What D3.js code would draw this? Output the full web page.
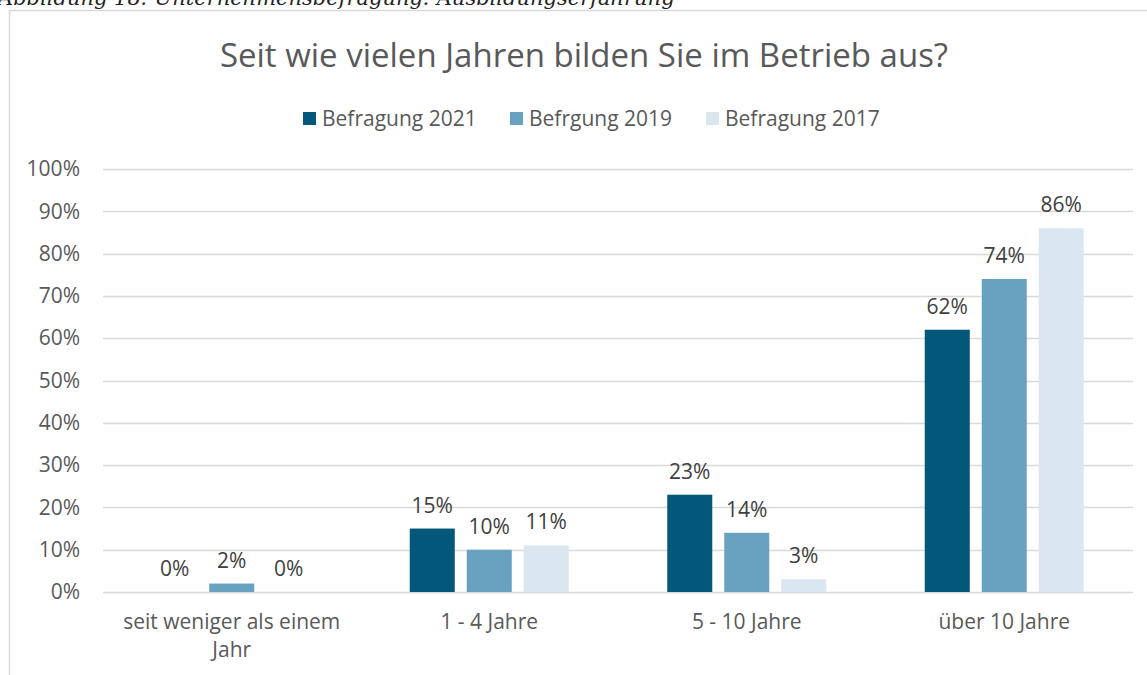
<!DOCTYPE html>
<html>
<head>
<meta charset="utf-8">
<script src="https://cdn.jsdelivr.net/npm/d3@7"></script>
<style>
  body { margin: 0; background: #fff; }
  svg text { font-family: "Open Sans", sans-serif; fill: #595959; }
</style>
</head>
<body>
<svg id="chart" width="1147" height="675"></svg>
<script>
// data
const categories = ["seit weniger als einem Jahr", "1 - 4 Jahre", "5 - 10 Jahre", "über 10 Jahre"];
const seriesNames = ["Befragung 2021", "Befrgung 2019", "Befragung 2017"];
const values2021 = [0, 15, 23, 62];
const values2019 = [2, 10, 14, 74];
const values2017 = [0, 11, 3, 86];
const yTicks = [0, 10, 20, 30, 40, 50, 60, 70, 80, 90, 100];
const colors = ["#03587a", "#68a2c0", "#dae7f1"];

const series = [values2021, values2019, values2017];

const svg = d3.select("#chart");

// caption above the chart frame (cut off at the top, as in the source)
svg.append("text")
  .attr("x", -2).attr("y", 5)
  .style("font-family", "'DejaVu Serif', serif")
  .style("font-style", "italic")
  .style("font-size", "21px")
  .style("fill", "#222")
  .text("Abbildung 18: Unternehmensbefragung: Ausbildungserfahrung");

// chart frame
svg.append("path")
  .attr("d", "M9.5,675 V10.5 H1150")
  .attr("fill", "none")
  .attr("stroke", "#d9d9d9")
  .attr("stroke-width", 1.5);

const x0 = d3.scaleBand().domain(categories).range([103, 1133]);
const x1 = d3.scaleBand().domain(d3.range(3)).range([0, 159]).paddingInner(0.21);
const y = d3.scaleLinear().domain([0, 100]).range([592, 169]);

// gridlines
svg.append("g")
  .selectAll("line")
  .data(yTicks)
  .join("line")
  .attr("x1", 103).attr("x2", 1133)
  .attr("y1", d => Math.round(y(d)) + 0.5)
  .attr("y2", d => Math.round(y(d)) + 0.5)
  .attr("stroke", "#d9d9d9")
  .attr("stroke-width", 1.5);

// y axis labels
const yAxis = svg.append("g")
  .attr("transform", "translate(103,0)")
  .call(d3.axisLeft(y).tickValues(yTicks).tickFormat(d => d + "%").tickSize(0).tickPadding(23));
yAxis.select(".domain").remove();
yAxis.selectAll("text")
  .style("font-size", "21px")
  .style("fill", "#595959")
  .style("font-family", "'Open Sans', sans-serif");

// bars
const groups = svg.append("g")
  .selectAll("g")
  .data(categories)
  .join("g")
  .attr("transform", d => `translate(${x0(d) + (x0.bandwidth() - 159) / 2},0)`);

groups.selectAll("rect")
  .data((d, i) => series.map((s, j) => ({ s: j, v: s[i] })))
  .join("rect")
  .attr("x", d => x1(d.s))
  .attr("width", x1.bandwidth())
  .attr("y", d => y(d.v))
  .attr("height", d => y(0) - y(d.v))
  .attr("fill", d => colors[d.s]);

groups.selectAll("text")
  .data((d, i) => series.map((s, j) => ({ s: j, v: s[i] })))
  .join("text")
  .attr("x", d => x1(d.s) + x1.bandwidth() / 2)
  .attr("y", d => y(d.v) - 16)
  .attr("text-anchor", "middle")
  .style("font-size", "21px")
  .style("fill", "#404040")
  .text(d => d.v + "%");

// category labels
const catLabels = svg.append("g")
  .selectAll("text")
  .data(categories)
  .join("text")
  .attr("x", d => x0(d) + x0.bandwidth() / 2)
  .attr("y", 629)
  .attr("text-anchor", "middle")
  .style("font-size", "21px");
catLabels.each(function (d) {
  const lines = d === "seit weniger als einem Jahr" ? ["seit weniger als einem", "Jahr"] : [d];
  d3.select(this).selectAll("tspan")
    .data(lines)
    .join("tspan")
    .attr("x", x0(d) + x0.bandwidth() / 2)
    .attr("dy", (l, i) => i === 0 ? 0 : 28)
    .text(l => l);
});

// title
svg.append("text")
  .attr("x", 584).attr("y", 67)
  .attr("text-anchor", "middle")
  .style("font-size", "33px")
  .text("Seit wie vielen Jahren bilden Sie im Betrieb aus?");

// legend
const legendX = [303, 510, 706];
const legend = svg.append("g")
  .selectAll("g")
  .data(seriesNames)
  .join("g")
  .attr("transform", (d, i) => `translate(${legendX[i]},0)`);
legend.append("rect")
  .attr("x", 0).attr("y", 112)
  .attr("width", 13).attr("height", 13)
  .attr("fill", (d, i) => colors[i]);
legend.append("text")
  .attr("x", 19).attr("y", 126)
  .style("font-size", "21px")
  .text(d => d);
</script>
</body>
</html>
